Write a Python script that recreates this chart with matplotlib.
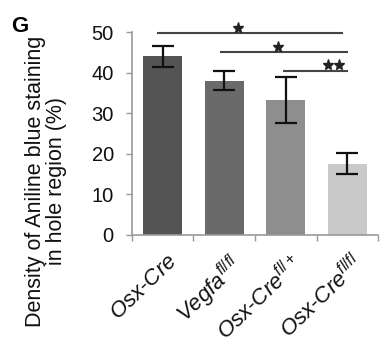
import matplotlib
matplotlib.use("Agg")
import matplotlib.pyplot as plt
import numpy as np

plt.rcParams['font.family'] = ['Liberation Sans', 'DejaVu Sans']
plt.rcParams['mathtext.fontset'] = 'custom'
plt.rcParams['mathtext.rm'] = 'Liberation Sans'
plt.rcParams['mathtext.it'] = 'Liberation Sans:italic'

# data
groups = [r'$\it{Osx}$-$\it{Cre}$', r'$\it{Vegfa}^{\it{fl/fl}}$',
          r'$\it{Osx}$-$\it{Cre}^{\it{fl/+}}$', r'$\it{Osx}$-$\it{Cre}^{\it{fl/fl}}$']
means = [44.0, 38.0, 33.2, 17.5]
errs = [2.5, 2.3, 5.7, 2.6]
bar_colors = ['#545454', '#6a6a6a', '#8e8e8e', '#c9c9c9']

# significance brackets: (x start, x end, height, star x)
sig_x0 = [-0.09, 0.93, 1.95]
sig_x1 = [2.93, 3.01, 3.01]
sig_y = [49.7, 45.0, 40.5]
star_x = [[1.22], [1.87], [2.68, 2.86]]

fig = plt.figure(figsize=(3.8, 3.49), dpi=100)
ax = fig.add_axes([0.347, 0.327, 0.648, 0.581])

x = np.arange(len(means))
ax.bar(x, means, width=0.634, color=bar_colors, zorder=2)
ax.errorbar(x, means, yerr=errs, fmt='none', ecolor='#111111',
            elinewidth=1.6, capsize=8, capthick=1.6, zorder=3)

ax.set_xlim(-0.5, 3.5)
ax.set_ylim(0, 50)
ax.set_yticks([0, 10, 20, 30, 40, 50])
ax.set_xticks([-0.5, 0.5, 1.5, 2.5, 3.5])
ax.set_xticklabels([])
ax.tick_params(axis='both', colors='#999999', labelcolor='#111111', labelsize=14.5,
               length=4, width=1)
ax.tick_params(axis='y', pad=9)
for s in ['top', 'right']:
    ax.spines[s].set_visible(False)
for s in ['left', 'bottom']:
    ax.spines[s].set_color('#999999')
    ax.spines[s].set_linewidth(1.2)

# group labels
for xi, g in zip(x, groups):
    ax.text(xi + 0.07, -0.08, g, rotation=44, ha='right', va='top', fontsize=16,
            rotation_mode='anchor', transform=ax.get_xaxis_transform(), clip_on=False,
            color='#111111')

# significance bars
for x0, x1, h, sx in zip(sig_x0, sig_x1, sig_y, star_x):
    ax.plot([x0, x1], [h, h], color='#444444', lw=1.5, clip_on=False,
            solid_capstyle='butt')
    ax.plot(sx, [h + 1.4] * len(sx), linestyle='none', marker='*', ms=8,
            color='#222222', clip_on=False)

fig.text(46 / 380, 1 - 181 / 349,
         'Density of Aniline blue staining\nin hole region (%)',
         rotation=90, fontsize=15.5, linespacing=0.95, ha='center', va='center',
         color='#111111')
fig.text(20 / 380, 1 - 26 / 349, 'G', fontsize=16, fontweight='bold',
         ha='center', va='center')

fig.savefig('out.png', dpi=100)
